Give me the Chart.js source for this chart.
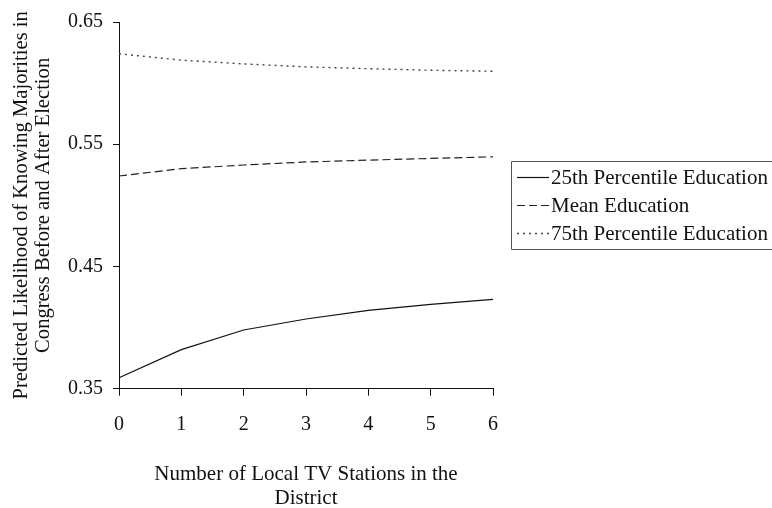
<!DOCTYPE html>
<html>
<head>
<meta charset="utf-8">
<script src="https://cdn.jsdelivr.net/npm/chart.js@4/dist/chart.umd.min.js"></script>
<style>
  html, body { margin: 0; padding: 0; background: #fff; overflow: hidden; }
  #wrap { width: 772px; height: 508px; }
</style>
</head>
<body>
<div id="wrap"><canvas id="chart" width="772" height="508"></canvas></div>
<script>
// Number of local TV stations in the district (x categories)
const stations = ['0', '1', '2', '3', '4', '5', '6'];

// Predicted likelihood of knowing majorities, by education level
const pct25Education = [0.359, 0.382, 0.398, 0.407, 0.414, 0.419, 0.423];
const meanEducation  = [0.524, 0.530, 0.533, 0.5355, 0.537, 0.5384, 0.5397];
const pct75Education = [0.624, 0.6188, 0.6157, 0.6133, 0.6118, 0.6105, 0.6097];

const seriesNames = ['25th Percentile Education', 'Mean Education', '75th Percentile Education'];
const yTickValues = [0.35, 0.45, 0.55, 0.65];

const SERIF = '"Liberation Serif", "Times New Roman", Times, serif';

// Legend drawn as a bordered box to the right of the plot
const boxedLegend = {
  id: 'boxedLegend',
  afterDraw(chart, args, opts) {
    const { ctx, chartArea } = chart;
    const ds = chart.data.datasets;
    const rowH = opts.rowHeight;
    const h = rowH * ds.length + opts.padY * 2;
    const left = chartArea.right + opts.gap;
    const top = Math.round((chartArea.top + chartArea.bottom) / 2 - h / 2);
    ctx.save();
    ctx.strokeStyle = '#555';
    ctx.lineWidth = 1;
    ctx.beginPath();
    ctx.rect(left + 0.5, top + 0.5, chart.width - left + 4, Math.round(h));
    ctx.stroke();
    ctx.font = opts.font;
    ctx.textBaseline = 'middle';
    ctx.textAlign = 'left';
    ds.forEach((d, i) => {
      const y = Math.round(top + opts.padY + rowH * (i + 0.5)) + 0.5;
      ctx.beginPath();
      ctx.setLineDash(d.borderDash || []);
      ctx.strokeStyle = d.borderColor;
      ctx.lineWidth = d.borderWidth;
      ctx.moveTo(left + opts.sampleStart, y);
      ctx.lineTo(left + opts.sampleStart + opts.sampleLen, y);
      ctx.stroke();
      ctx.setLineDash([]);
      ctx.fillStyle = '#111';
      ctx.fillText(d.label, left + opts.textStart, y + 1);
    });
    ctx.restore();
  }
};

new Chart(document.getElementById('chart'), {
  type: 'line',
  data: {
    labels: stations,
    datasets: [
      { label: seriesNames[0], data: pct25Education, borderColor: '#111', borderWidth: 1.2, borderDash: [] },
      { label: seriesNames[1], data: meanEducation,  borderColor: '#222', borderWidth: 1.2, borderDash: [8, 4] },
      { label: seriesNames[2], data: pct75Education, borderColor: '#444', borderWidth: 1.4, borderDash: [2, 4] }
    ]
  },
  options: {
    responsive: false,
    animation: false,
    devicePixelRatio: 1,
    layout: { padding: { top: 19, right: 279, bottom: 0, left: 0 } },
    elements: {
      point: { radius: 0, hoverRadius: 0 },
      line: { tension: 0, fill: false }
    },
    plugins: {
      legend: { display: false },
      tooltip: { enabled: false },
      boxedLegend: {
        gap: 18, rowHeight: 28, padY: 2,
        sampleStart: 6, sampleLen: 32, textStart: 40,
        font: '21px ' + SERIF
      }
    },
    scales: {
      x: {
        type: 'category',
        offset: false,
        grid: { display: true, drawOnChartArea: false, drawTicks: true, tickLength: 7, color: '#111', offset: false },
        border: { display: true, color: '#111', width: 1 },
        ticks: { color: '#111', font: { family: SERIF, size: 20 }, padding: 17, maxRotation: 0, autoSkip: false },
        title: {
          display: true,
          text: ['Number of Local TV Stations in the', 'District'],
          color: '#111',
          font: { family: SERIF, size: 21, lineHeight: 1.15 },
          padding: { top: 9, bottom: -3 }
        }
      },
      y: {
        min: 0.35,
        max: 0.65,
        afterBuildTicks: (scale) => { scale.ticks = yTickValues.map(v => ({ value: v })); },
        afterFit: (scale) => { scale.width = 119; },
        grid: { display: true, drawOnChartArea: false, drawTicks: true, tickLength: 6, color: '#111' },
        border: { display: true, color: '#111', width: 1 },
        ticks: { color: '#111', font: { family: SERIF, size: 20 }, padding: 10, callback: (v) => Number(v).toFixed(2) },
        title: {
          display: true,
          text: ['Predicted Likelihood of Knowing Majorities in', 'Congress Before and After Election'],
          color: '#111',
          font: { family: SERIF, size: 20.6, lineHeight: 1.1 },
          padding: { top: 10, bottom: 0 }
        }
      }
    }
  },
  plugins: [boxedLegend]
});
</script>
</body>
</html>
